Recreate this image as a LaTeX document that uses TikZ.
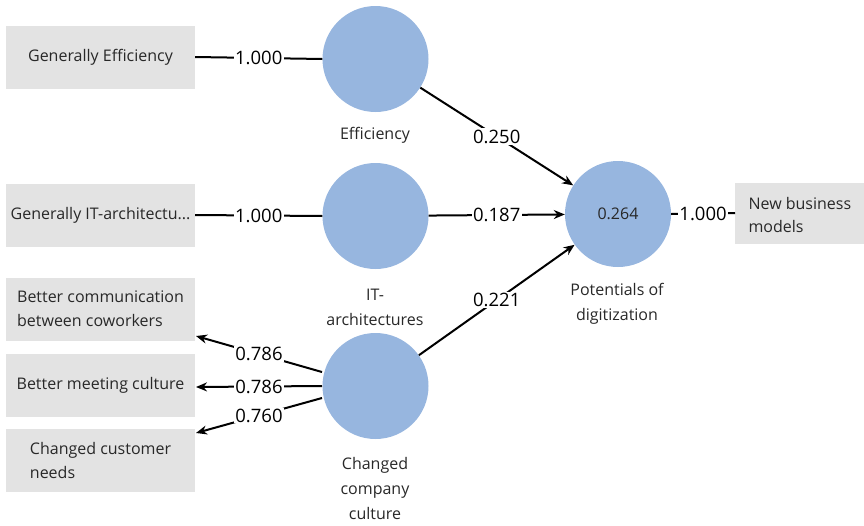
\documentclass[tikz,border=0pt]{standalone}
\usepackage{fontspec}
\setmainfont{Open Sans}
\usetikzlibrary{arrows.meta}
\definecolor{lvblue}{RGB}{151,182,223}
\definecolor{boxgray}{RGB}{227,227,227}
\definecolor{txt}{RGB}{40,40,40}
\tikzset{
  box/.style={fill=boxgray, minimum width=189pt, minimum height=63pt, inner sep=0pt, align=left, text=txt, font=\fontsize{16}{24}\selectfont},
  lv/.style={circle, fill=lvblue, minimum size=106pt, inner sep=0pt, text=txt, font=\fontsize{16}{20}\selectfont},
  lvname/.style={align=center, text=txt, font=\fontsize{16}{25}\selectfont},
  coef/.style={fill=white, inner sep=1.5pt, font=\fontsize{18.5}{20}\selectfont},
  conn/.style={line width=2pt},
  arr/.style={line width=2pt, -{Stealth[length=11pt,width=9pt]}},
}
\begin{document}
\begin{tikzpicture}[x=1pt,y=-1pt]
\useasboundingbox (0,0) rectangle (864,525);
% indicator boxes
\node[box] (ge) at (100.5,57) {Generally Efficiency};
\node[box] (git) at (100.5,215) {Generally IT-architectu...};
\node[box] (bc) at (100.5,309) {Better communication\\between coworkers};
\node[box] (bm) at (100.5,385) {Better meeting culture};
\node[box] (cc) at (100.5,460) {Changed customer\\needs};
\node[fill=boxgray, minimum width=140pt, minimum height=61pt, inner sep=0pt, anchor=west] (nbbox) at (735,213) {};
\node[align=left, anchor=west, text=txt, font=\fontsize{16}{23}\selectfont] (nb) at (745,215) {New business\\models};
% latent variables
\node[lv] (eff) at (375.5,59) {};
\node[lv] (it) at (375.5,216) {};
\node[lv] (cul) at (375.5,386) {};
\node[lv] (pot) at (618,214) {0.264};
\node[lvname] (effl) at (375,135) {Efficiency};
\node[lvname] (itl) at (375,307) {IT-\\architectures};
\node[lvname] (cull) at (375,488) {Changed\\company\\culture};
\node[lvname] (potl) at (617,304) {Potentials of\\digitization};
% outer loadings
\draw[conn] (ge.east) -- node[coef]{1.000} (eff.west);
\draw[conn] (git.east) -- node[coef]{1.000} (it.west);
\draw[conn] (pot.east) -- node[coef, inner sep=1pt]{1.000} (nbbox.west);
% path coefficients
\draw[arr] (eff) -- node[coef]{0.250} (pot);
\draw[arr] (it) -- node[coef]{0.187} (pot);
\draw[arr] (cul) -- node[coef]{0.221} (pot);
% reflective loadings
\coordinate (c1) at (322,372);
\coordinate (c2) at (322,386);
\coordinate (c3) at (322,398);
\coordinate (t1) at (196,336);
\coordinate (t2) at (196,387);
\coordinate (t3) at (196,433);
\draw[arr] (c1) -- node[coef, inner sep=1pt]{0.786} (t1);
\draw[arr] (c2) -- node[coef, inner sep=1pt]{0.786} (t2);
\draw[arr] (c3) -- node[coef, inner sep=1pt]{0.760} (t3);
\end{tikzpicture}
\end{document}
